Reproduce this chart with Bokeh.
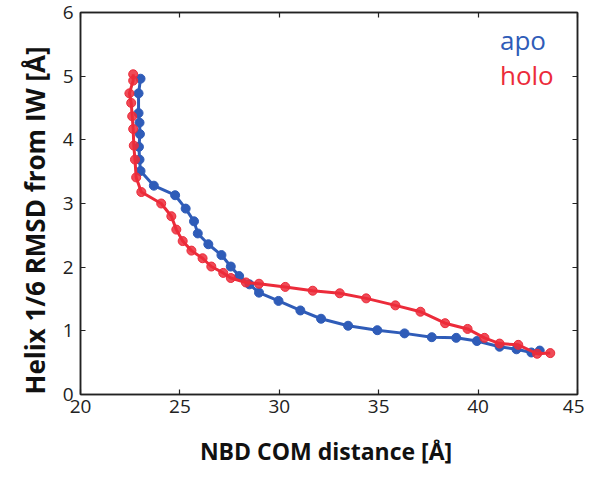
from bokeh.plotting import figure
from bokeh.models import LinearAxis, Label, FixedTicker, Title
from bokeh.embed import file_html
from bokeh.resources import INLINE

# apo series
apo_x = [23.02, 22.92, 22.92, 22.97, 22.99, 22.94, 22.97, 23.02, 23.69, 24.76, 25.29, 25.71,
         25.90, 26.43, 27.09, 27.56, 27.98, 28.50, 28.98, 29.96, 31.06, 32.10, 33.46, 34.93,
         36.30, 37.67, 38.90, 39.94, 41.08, 41.93, 42.68, 43.10]
apo_y = [4.96, 4.73, 4.42, 4.27, 4.09, 3.89, 3.69, 3.51, 3.28, 3.13, 2.92, 2.72,
         2.53, 2.36, 2.19, 2.01, 1.86, 1.73, 1.60, 1.47, 1.32, 1.19, 1.08, 1.01,
         0.96, 0.90, 0.89, 0.84, 0.75, 0.71, 0.66, 0.69]

# holo series
holo_x = [22.65, 22.65, 22.46, 22.55, 22.60, 22.65, 22.68, 22.74, 22.80, 23.06, 24.06, 24.57,
          24.82, 25.14, 25.58, 26.14, 26.58, 27.18, 27.56, 28.32, 28.98, 30.30, 31.68, 33.04,
          34.37, 35.84, 37.10, 38.34, 39.47, 40.32, 41.08, 42.02, 42.97, 43.63]
holo_y = [5.03, 4.93, 4.73, 4.58, 4.37, 4.17, 3.91, 3.69, 3.41, 3.18, 3.00, 2.80,
          2.59, 2.41, 2.26, 2.14, 2.01, 1.91, 1.83, 1.76, 1.74, 1.69, 1.63, 1.59,
          1.51, 1.40, 1.30, 1.12, 1.03, 0.89, 0.80, 0.78, 0.64, 0.65]

x_ticks = [20, 25, 30, 35, 40, 45]
y_ticks = [0, 1, 2, 3, 4, 5, 6]

BLUE = "#2f5cb8"
RED = "#ec2b3a"
FONT = "Open Sans"

W, H = 584, 469
p = figure(width=W, height=H, x_range=(20, 45), y_range=(0, 6),
           output_backend="svg", toolbar_location=None,
           min_border_left=80, min_border_right=7, min_border_top=12, min_border_bottom=65)
p.grid.visible = False
p.outline_line_color = "#222222"
p.outline_line_width = 1.5
p.background_fill_color = "white"
p.border_fill_color = "white"

for ax in (p.xaxis[0], p.yaxis[0]):
    ax.major_tick_in = 5
    ax.major_tick_out = 0
    ax.minor_tick_line_color = None
    ax.axis_line_color = "#222222"
    ax.axis_line_width = 1.5
    ax.major_tick_line_color = "#222222"
    ax.major_tick_line_width = 1.2
    ax.major_label_text_font = FONT
    ax.major_label_text_font_size = "19px"
    ax.major_label_text_color = "#222222"
    ax.axis_label_text_font = FONT
    ax.axis_label_text_font_style = "bold"
    ax.axis_label_text_font_size = "23px"
    ax.axis_label_text_color = "#111111"

p.xaxis.ticker = FixedTicker(ticks=x_ticks)
p.yaxis.ticker = FixedTicker(ticks=y_ticks)
p.xaxis.axis_label = "NBD COM distance  [Å]"
p.xaxis.major_label_standoff = 5
p.yaxis.major_label_standoff = 7
p.xaxis.axis_label_standoff = 19

for loc, tk in (("above", x_ticks), ("right", y_ticks)):
    ax = LinearAxis(ticker=FixedTicker(ticks=tk))
    ax.major_tick_in = 5
    ax.major_tick_out = 0
    ax.minor_tick_line_color = None
    ax.major_label_text_font_size = "0px"
    ax.major_label_standoff = 0
    ax.axis_line_color = "#222222"
    ax.axis_line_width = 1.5
    ax.major_tick_line_color = "#222222"
    ax.major_tick_line_width = 1.2
    p.add_layout(ax, loc)

p.line(apo_x, apo_y, line_color=BLUE, line_width=3)
p.scatter(apo_x, apo_y, size=9, fill_color=BLUE, line_color=BLUE)
p.line(holo_x, holo_y, line_color=RED, line_width=3)
p.scatter(holo_x, holo_y, size=9, fill_color=RED, line_color=RED, fill_alpha=0.85)

p.add_layout(Label(x=41.1, y=5.57, text="apo", text_color=BLUE, text_font=FONT,
                   text_font_size="26px", text_baseline="middle"))
p.add_layout(Label(x=41.1, y=5.02, text="holo", text_color=RED, text_font=FONT,
                   text_font_size="26px", text_baseline="middle"))

# y-axis title in the left panel, starting at the bottom of the frame like the reference
ytitle = Title(text="Helix 1/6 RMSD from IW [Å]", align="left", offset=0,
               standoff=14, text_font=FONT, text_font_style="bold",
               text_font_size="26px", text_color="#111111")
p.add_layout(ytitle, "left")

open("out.html", "w").write(file_html(p, INLINE))
